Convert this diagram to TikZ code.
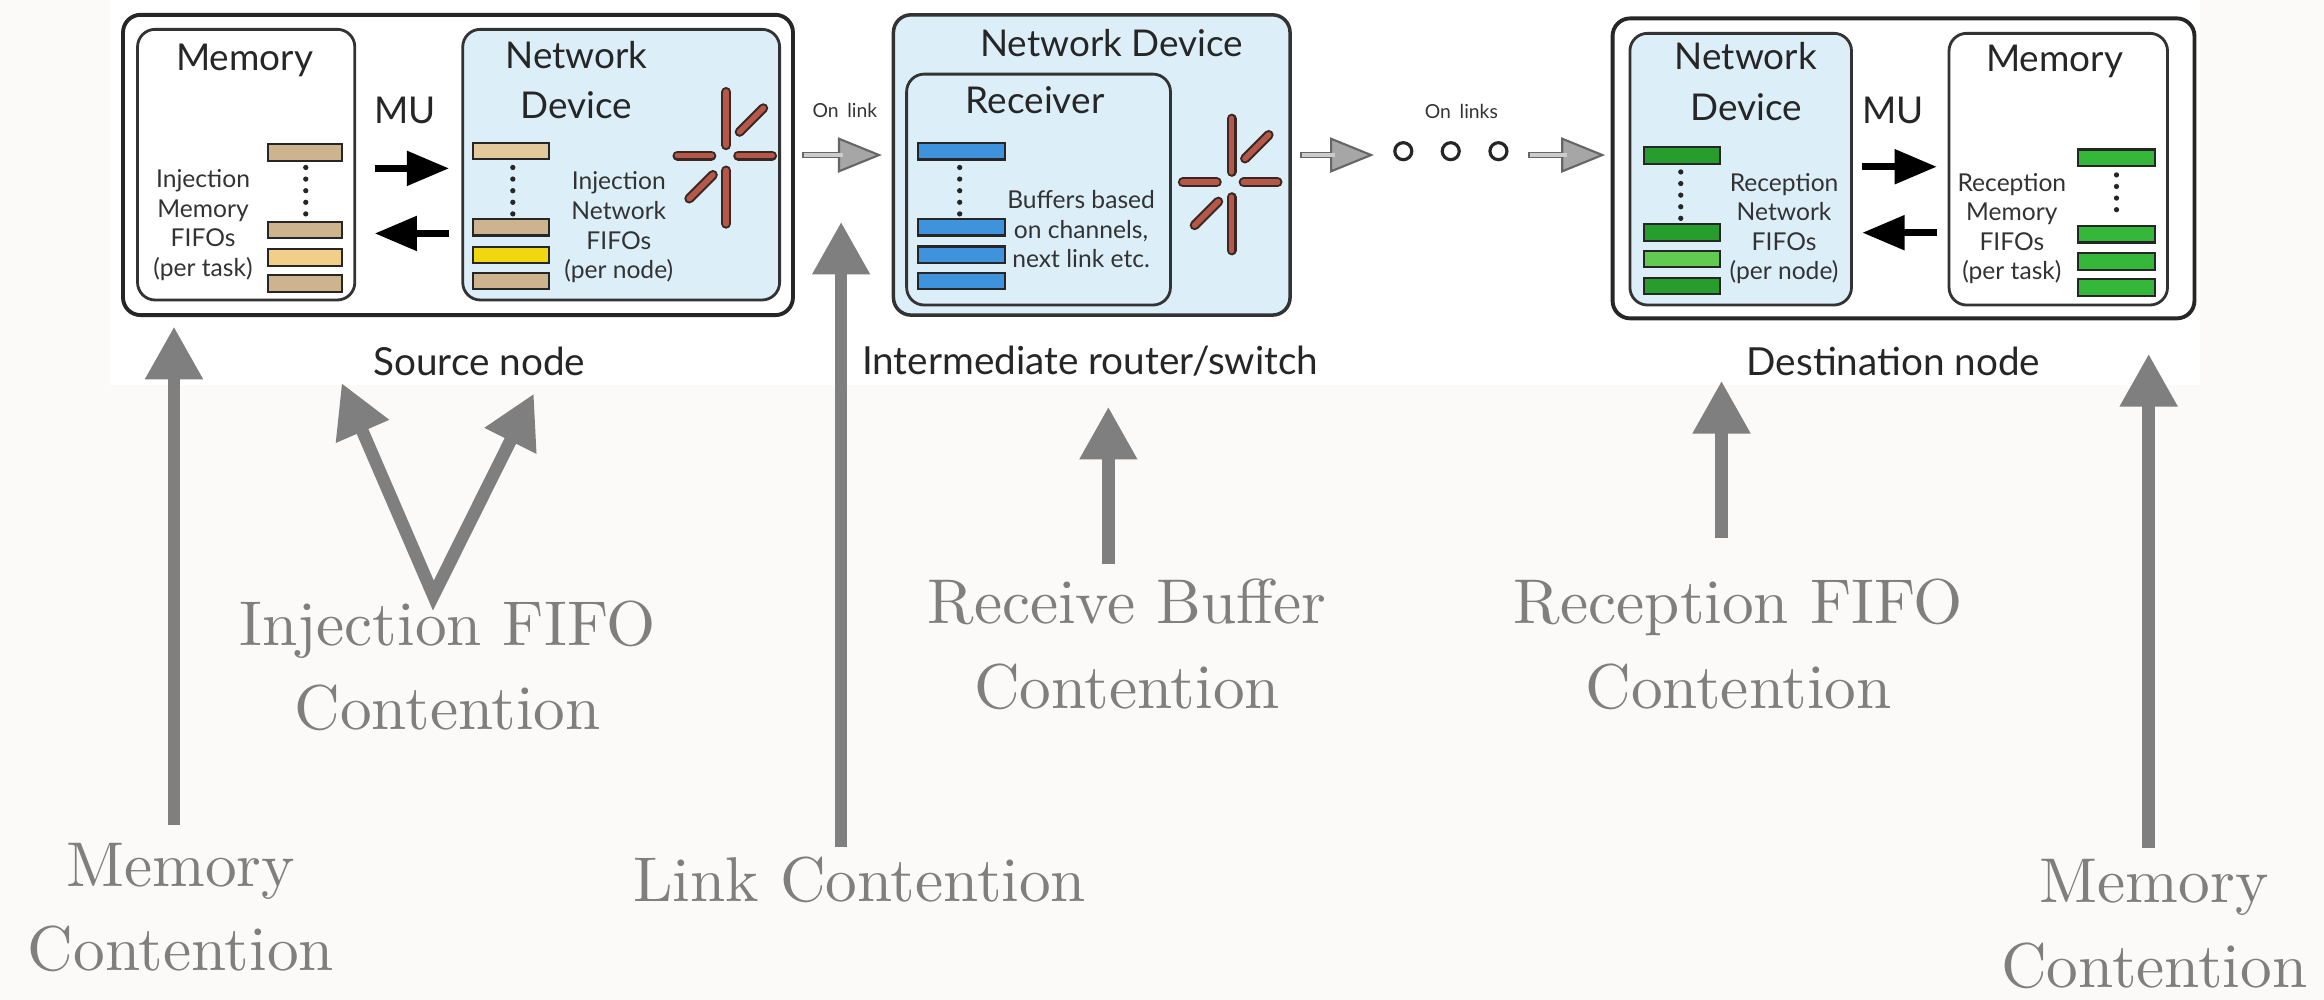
\documentclass[tikz,border=0pt]{standalone}
\usepackage{fontspec}
\setsansfont{Lato}
\newfontfamily\contfont{lmroman10-regular.otf}
\usetikzlibrary{arrows.meta,fit,positioning}

\definecolor{devblue}{HTML}{DCEFF9}
\definecolor{tanbar}{HTML}{CDB48E}
\definecolor{tanpale}{HTML}{E3C99C}
\definecolor{tanlight}{HTML}{F2CF88}
\definecolor{yellowbar}{HTML}{F0D710}
\definecolor{bluebar}{HTML}{3F93DC}
\definecolor{greendark}{HTML}{269D2C}
\definecolor{greenlight}{HTML}{60CB50}
\definecolor{greenmid}{HTML}{35B83A}
\definecolor{rodred}{HTML}{B5584A}
\definecolor{rodedge}{HTML}{3A2722}
\definecolor{contgray}{HTML}{7F7F7F}
\definecolor{paper}{HTML}{FBFAF8}

\tikzset{
  outerbox/.style={draw=black!85, line width=1.1pt, rounded corners=5pt, inner sep=0pt},
  memorybox/.style={draw=black!80, line width=0.8pt, rounded corners=5pt, fill=white, inner sep=0pt},
  devicebox/.style={memorybox, fill=devblue},
  title/.style={font=\sffamily\fontsize{10.5}{14.3}\selectfont, align=center, text=black!85, inner sep=0pt},
  caption/.style={font=\sffamily\fontsize{11}{13}\selectfont, text=black!85, inner sep=0pt},
  note/.style={font=\sffamily\fontsize{7}{8.4}\selectfont, align=center, text=black!80, inner sep=0pt},
  linknote/.style={font=\sffamily\fontsize{5.5}{6.5}\selectfont, text=black!80, inner sep=0pt},
  fifo/.style={draw=black!85, line width=0.6pt},
  fifodots/.style={draw=black!85, line width=1.5pt, line cap=round, dash pattern=on 0pt off 3.3pt},
  muarrow/.style={line width=2pt, -{Triangle[length=12pt,width=9.5pt]}},
  linkarrow/.style={draw=black!60, line width=1.9pt, -{Triangle[length=12.5pt,width=10pt,line width=0.6pt,fill=gray!70]},
    postaction={draw=gray!40, line width=0.9pt, -, shorten >=11pt, shorten <=0.6pt}},
  linkdot/.style={circle, draw=black!85, line width=0.9pt, fill=white, minimum size=0.17cm, inner sep=0pt},
  contline/.style={draw=contgray, line width=3.6pt},
  contarrow/.style={contline, -{Triangle[length=15pt,width=15.5pt]}},
  contpair/.style={contline, {Triangle[length=15pt,width=15.5pt]}-{Triangle[length=15pt,width=15.5pt]}},
  contlabel/.style={font=\contfont\fontsize{18}{24}\selectfont, text=contgray, align=center, anchor=base, inner sep=0pt},
  crossbar/.pic={
    \foreach \xa/\ya/\xb/\yb in {0/-43/0/-7, 0/10/0/46, -33/0/-10/0, 8/0/31/0, 9/-16/25/-32, -9/13/-25/29} {
      \draw[rodedge, line width=2.8pt, line cap=round] (\xa,\ya) -- (\xb,\yb);
      \draw[rodred, line width=1.6pt, line cap=round] (\xa,\ya) -- (\xb,\yb);
    }
  }
}

\begin{document}
\begin{tikzpicture}[x=0.01482cm, y=-0.01482cm]
\useasboundingbox (0,0) rectangle (1568,674.7);
\fill[paper] (0,0) rectangle (1568,674.7);
\fill[white] (74,0) rectangle (1484,260);

\node[outerbox, fit={(83,10) (535,212.6)}] (src) {};
\node[memorybox, fit={(92.8,19.8) (239.4,202.4)}] (srcmem) {};
\node[devicebox, fit={(312.2,19.8) (526,202.4)}] (srcdev) {};
\node[title] (srcmemtitle) at (165,40.5) {Memory};
\node[title] (srcmu) at (273.5,74.2) {MU};
\node[title] (srcdevtitle) at (389,54) {Network\\Device};
\node[note] (srcmemnote) at (137,152) {Injection\\Memory\\FIFOs\\(per task)};
\node[note] (srcdevnote) at (417.5,153.4) {Injection\\Network\\FIFOs\\(per node)};
\foreach \y/\c in {102.8/tanbar, 155.2/tanbar, 173.8/tanlight, 191.2/tanbar}
  \draw[fifo, fill=\c] (180.6,\y-5.6) rectangle (231,\y+5.6);
\foreach \y/\c in {101.8/tanpale, 153.3/tanbar, 172.1/yellowbar, 189.6/tanbar}
  \draw[fifo, fill=\c] (319,\y-5.6) rectangle (370.4,\y+5.6);
\draw[fifodots] (206.3,113) -- (206.3,145);
\draw[fifodots] (346,113) -- (346,145);
\coordinate (srcmuA) at (252.8,113.6);
\coordinate (srcmuB) at (303,113.6);
\coordinate (srcmuC) at (303,157.5);
\coordinate (srcmuD) at (252.8,157.5);
\draw[muarrow] (srcmuA) -- (srcmuB);
\draw[muarrow] (srcmuC) -- (srcmuD);
\pic (srcxbar) at (490,105) {crossbar};
\node[caption] (srccap) at (323.4,243.7) {Source node};

\coordinate (onlinkA) at (541,104.6);
\coordinate (onlinkB) at (595,104.6);
\draw[linkarrow] (onlinkA) -- (onlinkB);
\node[linknote] (onlinknote) at (570,74.2) {On\hspace{0.45em}link};

\node[devicebox, line width=1pt, fit={(602.8,10) (870.4,212.6)}] (mid) {};
\node[devicebox, fit={(611.7,50) (789.7,205.8)}] (midrcv) {};
\node[title] (midtitle) at (750,29.2) {Network Device};
\node[title] (midrcvtitle) at (698.4,67.5) {Receiver};
\foreach \y in {102, 153.3, 171.9, 189.6}
  \draw[fifo, fill=bluebar] (619.3,\y-5.6) rectangle (677.8,\y+5.6);
\draw[fifodots] (647.5,113) -- (647.5,145);
\node[note] (midnote) at (729.4,154.7) {Buffers based\\on channels,\\next link etc.};
\pic (midxbar) at (831,123) {crossbar};
\node[caption] (midcap) at (735.5,243.7) {Intermediate router/switch};

\coordinate (onlinksA) at (877,104.6);
\coordinate (onlinksB) at (927,104.6);
\draw[linkarrow] (onlinksA) -- (onlinksB);
\foreach \x [count=\i] in {946.8, 978.8, 1011}
  \node[linkdot] (hop\i) at (\x,102) {};
\node[linknote] (onlinksnote) at (986,75) {On\hspace{0.45em}links};
\coordinate (onlinksC) at (1031,104.6);
\coordinate (onlinksD) at (1083,104.6);
\draw[linkarrow] (onlinksC) -- (onlinksD);

\node[outerbox, fit={(1088,12.4) (1480.6,214.8)}] (dst) {};
\node[devicebox, fit={(1099.7,22.5) (1249.2,205.8)}] (dstdev) {};
\node[memorybox, fit={(1315,22.5) (1462.4,205.8)}] (dstmem) {};
\node[title] (dstdevtitle) at (1178,55) {Network\\Device};
\node[title] (dstmu) at (1277.4,74.2) {MU};
\node[title] (dstmemtitle) at (1386.2,41.6) {Memory};
\node[note] (dstdevnote) at (1203.7,154.2) {Reception\\Network\\FIFOs\\(per node)};
\node[note] (dstmemnote) at (1357.4,154.2) {Reception\\Memory\\FIFOs\\(per task)};
\foreach \y/\c in {104.9/greendark, 156.8/greendark, 174.8/greenlight, 192.9/greendark}
  \draw[fifo, fill=\c] (1109.3,\y-5.6) rectangle (1160.6,\y+5.6);
\foreach \y in {106.5, 158, 176.5, 194}
  \draw[fifo, fill=greenmid] (1402,\y-5.6) rectangle (1454,\y+5.6);
\draw[fifodots] (1134,116) -- (1134,148);
\draw[fifodots] (1428,118) -- (1428,149);
\coordinate (dstmuA) at (1256.5,112.5);
\coordinate (dstmuB) at (1306.8,112.5);
\coordinate (dstmuC) at (1306.8,157);
\coordinate (dstmuD) at (1256.5,157);
\draw[muarrow] (dstmuA) -- (dstmuB);
\draw[muarrow] (dstmuC) -- (dstmuD);
\node[caption] (dstcap) at (1277.5,243.7) {Destination node};

\node[contlabel] (memcontL) at (122,654.8) {Memory\\Contention};
\coordinate (memcontLbot) at (117.4,556.7);
\coordinate (memcontLtip) at (117.4,220.3);
\draw[contarrow] (memcontLbot) -- (memcontLtip);

\node[contlabel] (injcont) at (302,492.4) {Injection FIFO\\Contention};
\coordinate (injcontapex) at (292.4,401.8);
\coordinate (injconttipA) at (230.5,258.4);
\coordinate (injconttipB) at (360.2,265.6);
\draw[contpair] (injconttipA) -- (injcontapex) -- (injconttipB);

\node[contlabel] (linkcont) at (580,608) {Link Contention};
\coordinate (linkcontbot) at (567.5,571.5);
\coordinate (linkconttip) at (567.5,149.6);
\draw[contarrow] (linkcontbot) -- (linkconttip);

\node[contlabel] (bufcont) at (760.4,477.8) {Receive Buffer\\Contention};
\coordinate (bufcontbot) at (747.8,380.4);
\coordinate (bufconttip) at (747.8,274.4);
\draw[contarrow] (bufcontbot) -- (bufconttip);

\node[contlabel] (reccont) at (1173,477.8) {Reception FIFO\\Contention};
\coordinate (reccontbot) at (1161.5,362.8);
\coordinate (recconttip) at (1161.5,256.9);
\draw[contarrow] (reccontbot) -- (recconttip);

\node[contlabel] (memcontR) at (1453.4,666) {Memory\\Contention};
\coordinate (memcontRbot) at (1449.7,572);
\coordinate (memcontRtip) at (1449.7,238.7);
\draw[contarrow] (memcontRbot) -- (memcontRtip);
\end{tikzpicture}
\end{document}
